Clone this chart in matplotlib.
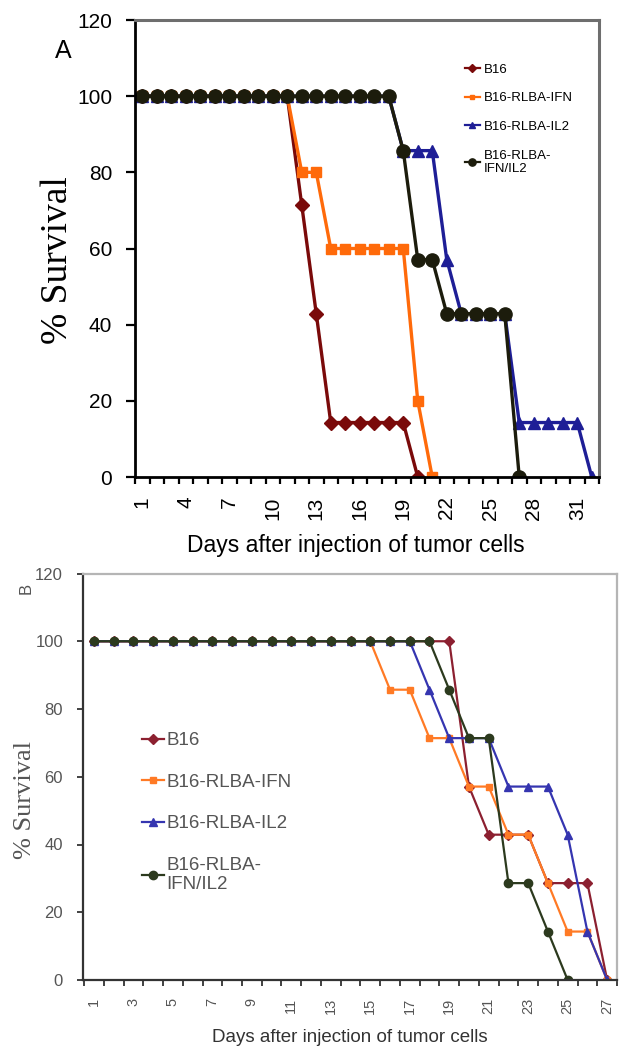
import matplotlib
matplotlib.use("Agg")
import matplotlib.pyplot as plt
import numpy as np

# ---------------- data ----------------
series_names = ["B16", "B16-RLBA-IFN", "B16-RLBA-IL2", "B16-RLBA-\nIFN/IL2"]

# Panel A
a_b16 = [100, 100, 100, 100, 100, 100, 100, 100, 100, 100, 100,
         71.4, 42.9, 14.3, 14.3, 14.3, 14.3, 14.3, 14.3, 0]
a_ifn = [100, 100, 100, 100, 100, 100, 100, 100, 100, 100, 100,
         80, 80, 60, 60, 60, 60, 60, 60, 20, 0]
a_il2 = [100, 100, 100, 100, 100, 100, 100, 100, 100, 100, 100, 100, 100, 100, 100, 100, 100, 100,
         85.7, 85.7, 85.7, 57.1, 42.9, 42.9, 42.9, 42.9, 14.3, 14.3, 14.3, 14.3, 14.3, 0]
a_combo = [100, 100, 100, 100, 100, 100, 100, 100, 100, 100, 100, 100, 100, 100, 100, 100, 100, 100,
           85.7, 57.1, 57.1, 42.9, 42.9, 42.9, 42.9, 42.9, 0]
a_xticklabels = [1, 4, 7, 10, 13, 16, 19, 22, 25, 28, 31]
a_ndays = 32

# Panel B
b_b16 = [100, 100, 100, 100, 100, 100, 100, 100, 100, 100, 100, 100, 100, 100, 100, 100, 100, 100, 100,
         57.1, 42.9, 42.9, 42.9, 28.6, 28.6, 28.6, 0]
b_ifn = [100, 100, 100, 100, 100, 100, 100, 100, 100, 100, 100, 100, 100, 100, 100,
         85.7, 85.7, 71.4, 71.4, 57.1, 57.1, 42.9, 42.9, 28.6, 14.3, 14.3, 0]
b_il2 = [100, 100, 100, 100, 100, 100, 100, 100, 100, 100, 100, 100, 100, 100, 100, 100, 100,
         85.7, 71.4, 71.4, 71.4, 57.1, 57.1, 57.1, 42.9, 14.3, 0]
b_combo = [100, 100, 100, 100, 100, 100, 100, 100, 100, 100, 100, 100, 100, 100, 100, 100, 100, 100,
           85.7, 71.4, 71.4, 28.6, 28.6, 14.3, 0]
b_xticklabels = [1, 3, 5, 7, 9, 11, 13, 15, 17, 19, 21, 23, 25, 27]
b_ndays = 27

y_ticks = [0, 20, 40, 60, 80, 100, 120]

# ---------------- styles ----------------
plt.rcParams['font.family'] = ['Liberation Sans', 'DejaVu Sans']

colA = ["#7a0a0a", "#ff6a0a", "#1e1e96", "#1c1c0c"]
mkA = ["D", "s", "^", "o"]
msA = [7.5, 6.5, 8, 9.5]

colB = ["#8c2030", "#ff7a25", "#3535b0", "#2c3a1e"]
mkB = ["D", "s", "^", "o"]
msB = [5, 5, 6, 6]

W, H = 621, 1048
fig = plt.figure(figsize=(W / 100, H / 100), dpi=100)
fig.patch.set_facecolor("white")

# ---------------- Panel A ----------------
axA = fig.add_axes([135 / W, 1 - 477 / H, 464 / W, 457 / H])
for vals, c, m, ms, name in zip([a_b16, a_ifn, a_il2, a_combo], colA, mkA, msA, series_names):
    days = np.arange(1, len(vals) + 1)
    axA.plot(days, vals, color=c, marker=m, markersize=ms, linewidth=2.4,
             markerfacecolor=c, markeredgecolor=c, label=name)

axA.set_xlim(0.5, a_ndays + 0.5)
axA.set_ylim(0, 120)
axA.set_yticks(y_ticks)
axA.set_xticks(a_xticklabels)
axA.set_xticklabels([str(v) for v in a_xticklabels], rotation=90)
axA.set_xticks(np.arange(0.5, a_ndays + 1, 1), minor=True)
axA.tick_params(axis='x', which='major', length=0, pad=14, labelsize=15)
axA.tick_params(axis='x', which='minor', length=5, width=1.6, direction='out', color='black')
axA.tick_params(axis='y', which='major', length=6.5, width=1.6, direction='out', pad=10, labelsize=15)
for s in ['left', 'bottom']:
    axA.spines[s].set_color('black')
    axA.spines[s].set_linewidth(2.0)
for s in ['top', 'right']:
    axA.spines[s].set_color('#6e6e6e')
    axA.spines[s].set_linewidth(2.2)

legA = axA.legend(loc='upper left', bbox_to_anchor=(0.711, 0.905), frameon=False,
                  fontsize=9.5, handlelength=1.15, handletextpad=0.25, labelspacing=1.25,
                  borderpad=0, borderaxespad=0, markerscale=0.55)
for ln in legA.get_lines():
    ln.set_linewidth(1.6)

fig.text(58 / W, 1 - 260 / H, '% Survival', rotation=90, fontsize=27,
         family=['Liberation Serif', 'DejaVu Serif'], ha='center', va='center')
fig.text(63 / W, 1 - 51 / H, 'A', fontsize=18, ha='center', va='center')
fig.text(356 / W, 1 - 552 / H, 'Days after injection of tumor cells', fontsize=16.5,
         ha='center', va='baseline')

# ---------------- Panel B ----------------
axB = fig.add_axes([82.5 / W, 1 - 980 / H, 534.5 / W, 406.5 / H])
for vals, c, m, ms, name in zip([b_b16, b_ifn, b_il2, b_combo], colB, mkB, msB, series_names):
    days = np.arange(1, len(vals) + 1)
    axB.plot(days, vals, color=c, marker=m, markersize=ms, linewidth=1.6,
             markerfacecolor=c, markeredgecolor=c, label=name)

axB.set_xlim(0.42, 27.27)
axB.set_ylim(0, 120)
axB.set_yticks(y_ticks)
axB.set_xticks(b_xticklabels)
axB.set_xticklabels([str(v) for v in b_xticklabels], rotation=90)
axB.set_xticks(np.arange(0.5, b_ndays + 0.6, 1), minor=True)
axB.tick_params(axis='x', which='major', length=0, pad=13, labelsize=10.5, labelcolor='#555555')
axB.tick_params(axis='x', which='minor', length=4, width=1.3, direction='out', color='#333333')
axB.tick_params(axis='y', which='major', length=4.5, width=1.3, direction='out', pad=9.5,
                labelsize=12, labelcolor='#555555', color='#333333')
for s in ['left', 'bottom']:
    axB.spines[s].set_color('#333333')
    axB.spines[s].set_linewidth(1.6)
for s in ['top', 'right']:
    axB.spines[s].set_color('#b5b5b5')
    axB.spines[s].set_linewidth(1.6)

legB = axB.legend(loc='upper left', bbox_to_anchor=(0.111, 0.61), frameon=False,
                  fontsize=13.5, handlelength=1.2, handletextpad=0.12, labelspacing=1.3,
                  borderpad=0, borderaxespad=0, labelcolor='#555555')

fig.text(25 / W, 1 - 800 / H, '% Survival', rotation=90, fontsize=19, color='#555555',
         family=['Liberation Serif', 'DejaVu Serif'], ha='center', va='center')
fig.text(26 / W, 1 - 588 / H, 'B', rotation=90, fontsize=12, color='#555555',
         ha='center', va='center')
fig.text(350 / W, 1 - 1037 / H, 'Days after injection of tumor cells', fontsize=13.5,
         color='#333333', ha='center', va='center')

fig.savefig("out.png", dpi=100, facecolor='white')
